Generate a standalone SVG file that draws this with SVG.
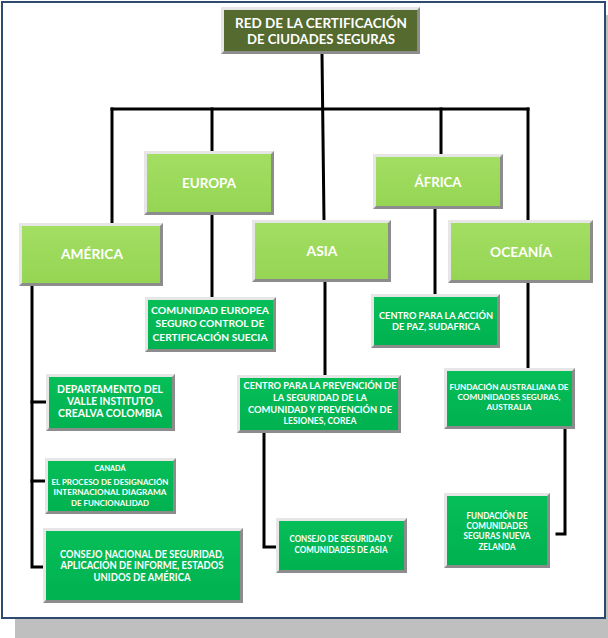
<svg xmlns="http://www.w3.org/2000/svg" width="608" height="638" viewBox="0 0 608 638">
<defs>
<style>
.bd{fill:#8C8C8C}
.bl{fill:#E6E6E6}
.t0{fill:#546A2E}
.l1{fill:url(#g1)}
.l2{fill:url(#g2)}
text{font-family:Lato,"Liberation Sans",sans-serif;font-weight:bold;fill:#FFFFFF;text-anchor:middle}
.c{fill:none;stroke:#000000;stroke-width:3;stroke-linecap:square;stroke-linejoin:miter}
</style>
<linearGradient id="g1" x1="0" y1="0" x2="0" y2="1">
<stop offset="0" stop-color="#A2DE62"/>
<stop offset="1" stop-color="#96D554"/>
</linearGradient>
<linearGradient id="g2" x1="0" y1="0" x2="0" y2="1">
<stop offset="0" stop-color="#06BE58"/>
<stop offset="1" stop-color="#00B250"/>
</linearGradient>
</defs>
<rect x="15" y="15" width="593" height="623" fill="#BFBFBF"/>
<rect x="2" y="2" width="603" height="616" fill="#FFFFFF" stroke="#2E4A6E" stroke-width="2"/>

<g id="connectors">
<path class="c" d="M322,54 L324,220"/>
<path class="c" d="M112,109 H528"/>
<path class="c" d="M112,109 V223"/>
<path class="c" d="M212,109 V151"/>
<path class="c" d="M441,109 V154"/>
<path class="c" d="M528,109 V220"/>
<path class="c" d="M212,215 V297"/>
<path class="c" d="M435,209 V294"/>
<path class="c" d="M325,282 V375"/>
<path class="c" d="M528,283 V368"/>
<path class="c" d="M32,286 V567 H47"/>
<path class="c" d="M32,402 H47"/>
<path class="c" d="M32,481 H47"/>
<path class="c" d="M264,433 V547 H278"/>
<path class="c" d="M565,429 V534 H557"/>
</g>

<g id="root">
<rect class="bd" x="221" y="7" width="199" height="47"/>
<polygon class="bl" points="221,7 420,7 417,10 224,51 221,54"/>
<rect class="t0" x="224" y="10" width="193" height="41"/>
<text x="321" y="28" font-size="14" textLength="172" lengthAdjust="spacingAndGlyphs">RED DE LA CERTIFICACIÓN</text>
<text x="321" y="44" font-size="14" textLength="148" lengthAdjust="spacingAndGlyphs">DE CIUDADES SEGURAS</text>
</g>

<g id="europa">
<rect class="bd" x="144" y="151" width="130" height="64"/>
<polygon class="bl" points="144,151 274,151 271,154 147,212 144,215"/>
<rect class="l1" x="147" y="154" width="124" height="58"/>
<text x="209" y="188" font-size="13" textLength="54" lengthAdjust="spacingAndGlyphs">EUROPA</text>
</g>

<g id="africa">
<rect class="bd" x="373" y="154" width="130" height="55"/>
<polygon class="bl" points="373,154 503,154 500,157 376,206 373,209"/>
<rect class="l1" x="376" y="157" width="124" height="49"/>
<text x="438" y="187" font-size="13" textLength="47" lengthAdjust="spacingAndGlyphs">ÁFRICA</text>
</g>

<g id="america">
<rect class="bd" x="19" y="223" width="144" height="63"/>
<polygon class="bl" points="19,223 163,223 160,226 22,283 19,286"/>
<rect class="l1" x="22" y="226" width="138" height="57"/>
<text x="92" y="259" font-size="13" textLength="62" lengthAdjust="spacingAndGlyphs">AMÉRICA</text>
</g>

<g id="asia">
<rect class="bd" x="252" y="220" width="139" height="62"/>
<polygon class="bl" points="252,220 391,220 388,223 255,279 252,282"/>
<rect class="l1" x="255" y="223" width="133" height="56"/>
<text x="322" y="256" font-size="13" textLength="31" lengthAdjust="spacingAndGlyphs">ASIA</text>
</g>

<g id="oceania">
<rect class="bd" x="448" y="220" width="145" height="63"/>
<polygon class="bl" points="448,220 593,220 590,223 451,280 448,283"/>
<rect class="l1" x="451" y="223" width="139" height="57"/>
<text x="521" y="257" font-size="13" textLength="62" lengthAdjust="spacingAndGlyphs">OCEANÍA</text>
</g>

<g id="comunidad-europea">
<rect class="bd" x="145" y="297" width="131" height="55"/>
<polygon class="bl" points="145,297 276,297 273,300 148,349 145,352"/>
<rect class="l2" x="148" y="300" width="125" height="49"/>
<text x="210" y="314" font-size="10" textLength="118" lengthAdjust="spacingAndGlyphs">COMUNIDAD EUROPEA</text>
<text x="210" y="327" font-size="10" textLength="109" lengthAdjust="spacingAndGlyphs">SEGURO CONTROL DE</text>
<text x="210" y="341" font-size="10" textLength="115" lengthAdjust="spacingAndGlyphs">CERTIFICACIÓN SUECIA</text>
</g>

<g id="centro-paz">
<rect class="bd" x="371" y="294" width="129" height="54"/>
<polygon class="bl" points="371,294 500,294 497,297 374,345 371,348"/>
<rect class="l2" x="374" y="297" width="123" height="48"/>
<text x="436" y="319" font-size="9" textLength="114" lengthAdjust="spacingAndGlyphs">CENTRO PARA LA ACCIÓN</text>
<text x="436" y="330" font-size="9" textLength="88" lengthAdjust="spacingAndGlyphs">DE PAZ, SUDAFRICA</text>
</g>

<g id="departamento-valle">
<rect class="bd" x="46" y="374" width="129" height="57"/>
<polygon class="bl" points="46,374 175,374 172,377 49,428 46,431"/>
<rect class="l2" x="49" y="377" width="123" height="51"/>
<text x="110" y="393" font-size="10.5" textLength="106" lengthAdjust="spacingAndGlyphs">DEPARTAMENTO DEL</text>
<text x="110" y="405" font-size="10.5" textLength="86" lengthAdjust="spacingAndGlyphs">VALLE INSTITUTO</text>
<text x="110" y="417" font-size="10.5" textLength="104" lengthAdjust="spacingAndGlyphs">CREALVA COLOMBIA</text>
</g>

<g id="centro-prevencion">
<rect class="bd" x="237" y="375" width="164" height="58"/>
<polygon class="bl" points="237,375 401,375 398,378 240,430 237,433"/>
<rect class="l2" x="240" y="378" width="158" height="52"/>
<text x="320" y="389" font-size="9.5" textLength="153" lengthAdjust="spacingAndGlyphs">CENTRO PARA LA PREVENCIÓN DE</text>
<text x="320" y="401" font-size="9.5" textLength="94" lengthAdjust="spacingAndGlyphs">LA SEGURIDAD DE LA</text>
<text x="320" y="413" font-size="9.5" textLength="144" lengthAdjust="spacingAndGlyphs">COMUNIDAD Y PREVENCIÓN DE</text>
<text x="320" y="424" font-size="9.5" textLength="73" lengthAdjust="spacingAndGlyphs">LESIONES, COREA</text>
</g>

<g id="fundacion-australiana">
<rect class="bd" x="444" y="368" width="131" height="61"/>
<polygon class="bl" points="444,368 575,368 572,371 447,426 444,429"/>
<rect class="l2" x="447" y="371" width="125" height="55"/>
<text x="509" y="390" font-size="8" textLength="119" lengthAdjust="spacingAndGlyphs">FUNDACIÓN AUSTRALIANA DE</text>
<text x="509" y="400" font-size="8" textLength="103" lengthAdjust="spacingAndGlyphs">COMUNIDADES SEGURAS,</text>
<text x="509" y="410" font-size="8" textLength="45" lengthAdjust="spacingAndGlyphs">AUSTRALIA</text>
</g>

<g id="canada">
<rect class="bd" x="45" y="458" width="131" height="56"/>
<polygon class="bl" points="45,458 176,458 173,461 48,511 45,514"/>
<rect class="l2" x="48" y="461" width="125" height="50"/>
<text x="110" y="471" font-size="8" textLength="31" lengthAdjust="spacingAndGlyphs">CANADÁ</text>
<text x="110" y="485" font-size="8" textLength="117" lengthAdjust="spacingAndGlyphs">EL PROCESO DE DESIGNACIÓN</text>
<text x="110" y="495" font-size="8" textLength="113" lengthAdjust="spacingAndGlyphs">INTERNACIONAL DIAGRAMA</text>
<text x="110" y="506" font-size="8" textLength="78" lengthAdjust="spacingAndGlyphs">DE FUNCIONALIDAD</text>
</g>

<g id="fundacion-nueva-zelanda">
<rect class="bd" x="444" y="493" width="106" height="75"/>
<polygon class="bl" points="444,493 550,493 547,496 447,565 444,568"/>
<rect class="l2" x="447" y="496" width="100" height="69"/>
<text x="497" y="519" font-size="8.5" textLength="61" lengthAdjust="spacingAndGlyphs">FUNDACIÓN DE</text>
<text x="497" y="529" font-size="8.5" textLength="61" lengthAdjust="spacingAndGlyphs">COMUNIDADES</text>
<text x="497" y="539" font-size="8.5" textLength="67" lengthAdjust="spacingAndGlyphs">SEGURAS NUEVA</text>
<text x="497" y="550" font-size="8.5" textLength="37" lengthAdjust="spacingAndGlyphs">ZELANDA</text>
</g>

<g id="consejo-asia">
<rect class="bd" x="276" y="518" width="131" height="55"/>
<polygon class="bl" points="276,518 407,518 404,521 279,570 276,573"/>
<rect class="l2" x="279" y="521" width="125" height="49"/>
<text x="341" y="542" font-size="8.5" textLength="103" lengthAdjust="spacingAndGlyphs">CONSEJO DE SEGURIDAD Y</text>
<text x="341" y="553" font-size="8.5" textLength="93" lengthAdjust="spacingAndGlyphs">COMUNIDADES DE ASIA</text>
</g>

<g id="consejo-nacional">
<rect class="bd" x="43" y="528" width="200" height="75"/>
<polygon class="bl" points="43,528 243,528 240,531 46,600 43,603"/>
<rect class="l2" x="46" y="531" width="194" height="69"/>
<text x="142" y="558" font-size="10.5" textLength="164" lengthAdjust="spacingAndGlyphs">CONSEJO NACIONAL DE SEGURIDAD,</text>
<text x="142" y="569" font-size="10.5" textLength="163" lengthAdjust="spacingAndGlyphs">APLICACIÓN DE INFORME, ESTADOS</text>
<text x="142" y="581" font-size="10.5" textLength="97" lengthAdjust="spacingAndGlyphs">UNIDOS DE AMÉRICA</text>
</g>
</svg>
